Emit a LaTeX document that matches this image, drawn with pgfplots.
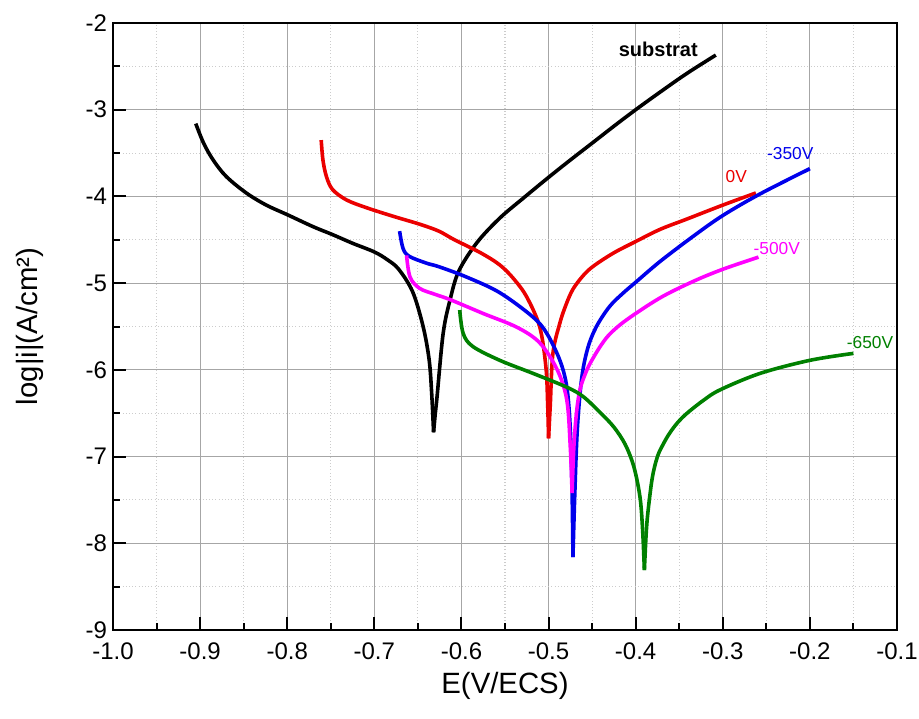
\documentclass[border=0pt]{standalone}
\usepackage{fontspec}
\setmainfont{Liberation Sans}
\usepackage{pgfplots}
\pgfplotsset{compat=1.18}
\definecolor{ogreen}{RGB}{0,128,0}
\definecolor{ored}{RGB}{235,0,0}
\definecolor{oblue}{RGB}{0,0,235}
\definecolor{omag}{RGB}{255,0,255}
\begin{document}
\begin{tikzpicture}
\begin{axis}[
  scale only axis, width=588pt, height=455.25pt,
  xmin=-1.0, xmax=-0.1, ymin=-9, ymax=-2,
  xtick={-1.0,-0.9,...,-0.05}, ytick={-9,-8,...,-2},
  minor x tick num=1, minor y tick num=1,
  xtick pos=bottom, ytick pos=left, tick align=inside,
  major tick length=10pt, minor tick length=5pt,
  every tick/.style={black, line width=1.5pt},
  axis line style={line width=2pt},
  grid=both,
  major grid style={gray!70, line width=0.8pt},
  minor grid style={gray!40, dotted, line width=0.8pt},
  /pgf/number format/assume math mode=true,
  ticklabel style={font=\fontsize{18}{20}\selectfont},
  xticklabel style={yshift=-6pt, /pgf/number format/fixed, /pgf/number format/fixed zerofill, /pgf/number format/precision=1},
  yticklabel style={xshift=-1pt},
  xlabel={E(V/ECS)}, ylabel={log|i|(A/cm²)},
  label style={font=\fontsize{22}{25}\selectfont},
  xlabel style={at={(axis description cs:0.5,-0.092)}, anchor=center},
  ylabel style={at={(axis description cs:-0.106,0.5)}, anchor=center},
  every axis plot/.append style={line width=2.7pt, line join=round, smooth, tension=0.55},
  clip=true,
]
% substrat
\addplot[black] coordinates {
(-0.905,-3.16) (-0.896,-3.385) (-0.885,-3.58) (-0.870,-3.77) (-0.847,-3.96)
(-0.824,-4.10) (-0.800,-4.21) (-0.770,-4.35) (-0.748,-4.44) (-0.725,-4.54)
(-0.700,-4.64) (-0.685,-4.73) (-0.672,-4.84) (-0.656,-5.10) (-0.644,-5.50)
(-0.637,-5.89) (-0.634,-6.30) (-0.632,-6.72)
};
\addplot[black] coordinates {
(-0.632,-6.72) (-0.630,-6.50) (-0.628,-6.31)
(-0.621,-5.58) (-0.613,-5.19) (-0.603,-4.86) (-0.582,-4.53) (-0.556,-4.25)
(-0.529,-4.02) (-0.500,-3.78) (-0.475,-3.58) (-0.448,-3.37) (-0.425,-3.19)
(-0.400,-3.00) (-0.371,-2.79) (-0.341,-2.58) (-0.308,-2.37)
};
% 0V
\addplot[ored] coordinates {
(-0.761,-3.35) (-0.759,-3.58) (-0.755,-3.77) (-0.748,-3.92) (-0.732,-4.04)
(-0.709,-4.13) (-0.678,-4.23) (-0.648,-4.32) (-0.626,-4.40) (-0.608,-4.50)
(-0.578,-4.65) (-0.556,-4.79) (-0.540,-4.95) (-0.525,-5.16) (-0.510,-5.51)
(-0.503,-5.97) (-0.501,-6.40) (-0.500,-6.79)
};
\addplot[ored] coordinates {
(-0.500,-6.79) (-0.498,-6.40) (-0.495,-5.81)
(-0.487,-5.46) (-0.480,-5.25) (-0.472,-5.07) (-0.460,-4.91) (-0.448,-4.80)
(-0.425,-4.65) (-0.400,-4.52) (-0.372,-4.38) (-0.341,-4.26) (-0.300,-4.10)
(-0.262,-3.96)
};
% -350V
\addplot[oblue] coordinates {
(-0.671,-4.40) (-0.667,-4.60) (-0.660,-4.69) (-0.640,-4.77) (-0.626,-4.81)
(-0.594,-4.93) (-0.556,-5.11) (-0.518,-5.39) (-0.502,-5.58) (-0.487,-5.89)
(-0.479,-6.20) (-0.475,-6.69) (-0.473,-7.40) (-0.472,-8.16)
};
\addplot[oblue] coordinates {
(-0.472,-8.16) (-0.470,-7.47) (-0.467,-6.69) (-0.462,-6.10) (-0.455,-5.75)
(-0.445,-5.50) (-0.430,-5.27) (-0.415,-5.12) (-0.400,-4.99) (-0.372,-4.75)
(-0.334,-4.46) (-0.300,-4.22) (-0.257,-3.97) (-0.200,-3.68)
};
% -500V
\addplot[omag] coordinates {
(-0.663,-4.68) (-0.659,-4.93) (-0.648,-5.06) (-0.630,-5.13) (-0.613,-5.19)
(-0.575,-5.35) (-0.536,-5.51) (-0.510,-5.69) (-0.490,-6.00) (-0.479,-6.35)
(-0.475,-6.90) (-0.473,-7.42)
};
\addplot[omag] coordinates {
(-0.473,-7.42) (-0.471,-6.90) (-0.468,-6.50) (-0.464,-6.23) (-0.458,-6.05)
(-0.452,-5.92) (-0.440,-5.72) (-0.429,-5.58) (-0.410,-5.42) (-0.372,-5.17)
(-0.334,-4.98) (-0.300,-4.84) (-0.259,-4.70)
};
% -650V
\addplot[ogreen] coordinates {
(-0.602,-5.31) (-0.598,-5.58) (-0.587,-5.73) (-0.556,-5.89) (-0.518,-6.04)
(-0.479,-6.20) (-0.460,-6.31) (-0.440,-6.50) (-0.425,-6.66) (-0.412,-6.86)
(-0.402,-7.12) (-0.395,-7.47) (-0.392,-7.85) (-0.390,-8.31)
};
\addplot[ogreen] coordinates {
(-0.390,-8.31) (-0.388,-7.90) (-0.386,-7.65) (-0.381,-7.25)
(-0.375,-7.00) (-0.368,-6.85) (-0.361,-6.73) (-0.352,-6.61) (-0.341,-6.50)
(-0.322,-6.35) (-0.303,-6.23) (-0.257,-6.04) (-0.200,-5.89) (-0.150,-5.81)
};
\node[font=\fontsize{15}{17}\selectfont\bfseries] at (axis cs:-0.374,-2.30) {substrat};
\node[font=\fontsize{13}{15}\selectfont, text=ored] at (axis cs:-0.2845,-3.77) {0V};
\node[font=\fontsize{13}{15}\selectfont, text=oblue] at (axis cs:-0.2225,-3.51) {-350V};
\node[font=\fontsize{13}{15}\selectfont, text=omag] at (axis cs:-0.238,-4.60) {-500V};
\node[font=\fontsize{13}{15}\selectfont, text=ogreen] at (axis cs:-0.131,-5.69) {-650V};
\end{axis}
\pgfresetboundingbox
\useasboundingbox (-84.75pt,-66pt) rectangle (604.5pt,472.5pt);
\end{tikzpicture}
\end{document}
